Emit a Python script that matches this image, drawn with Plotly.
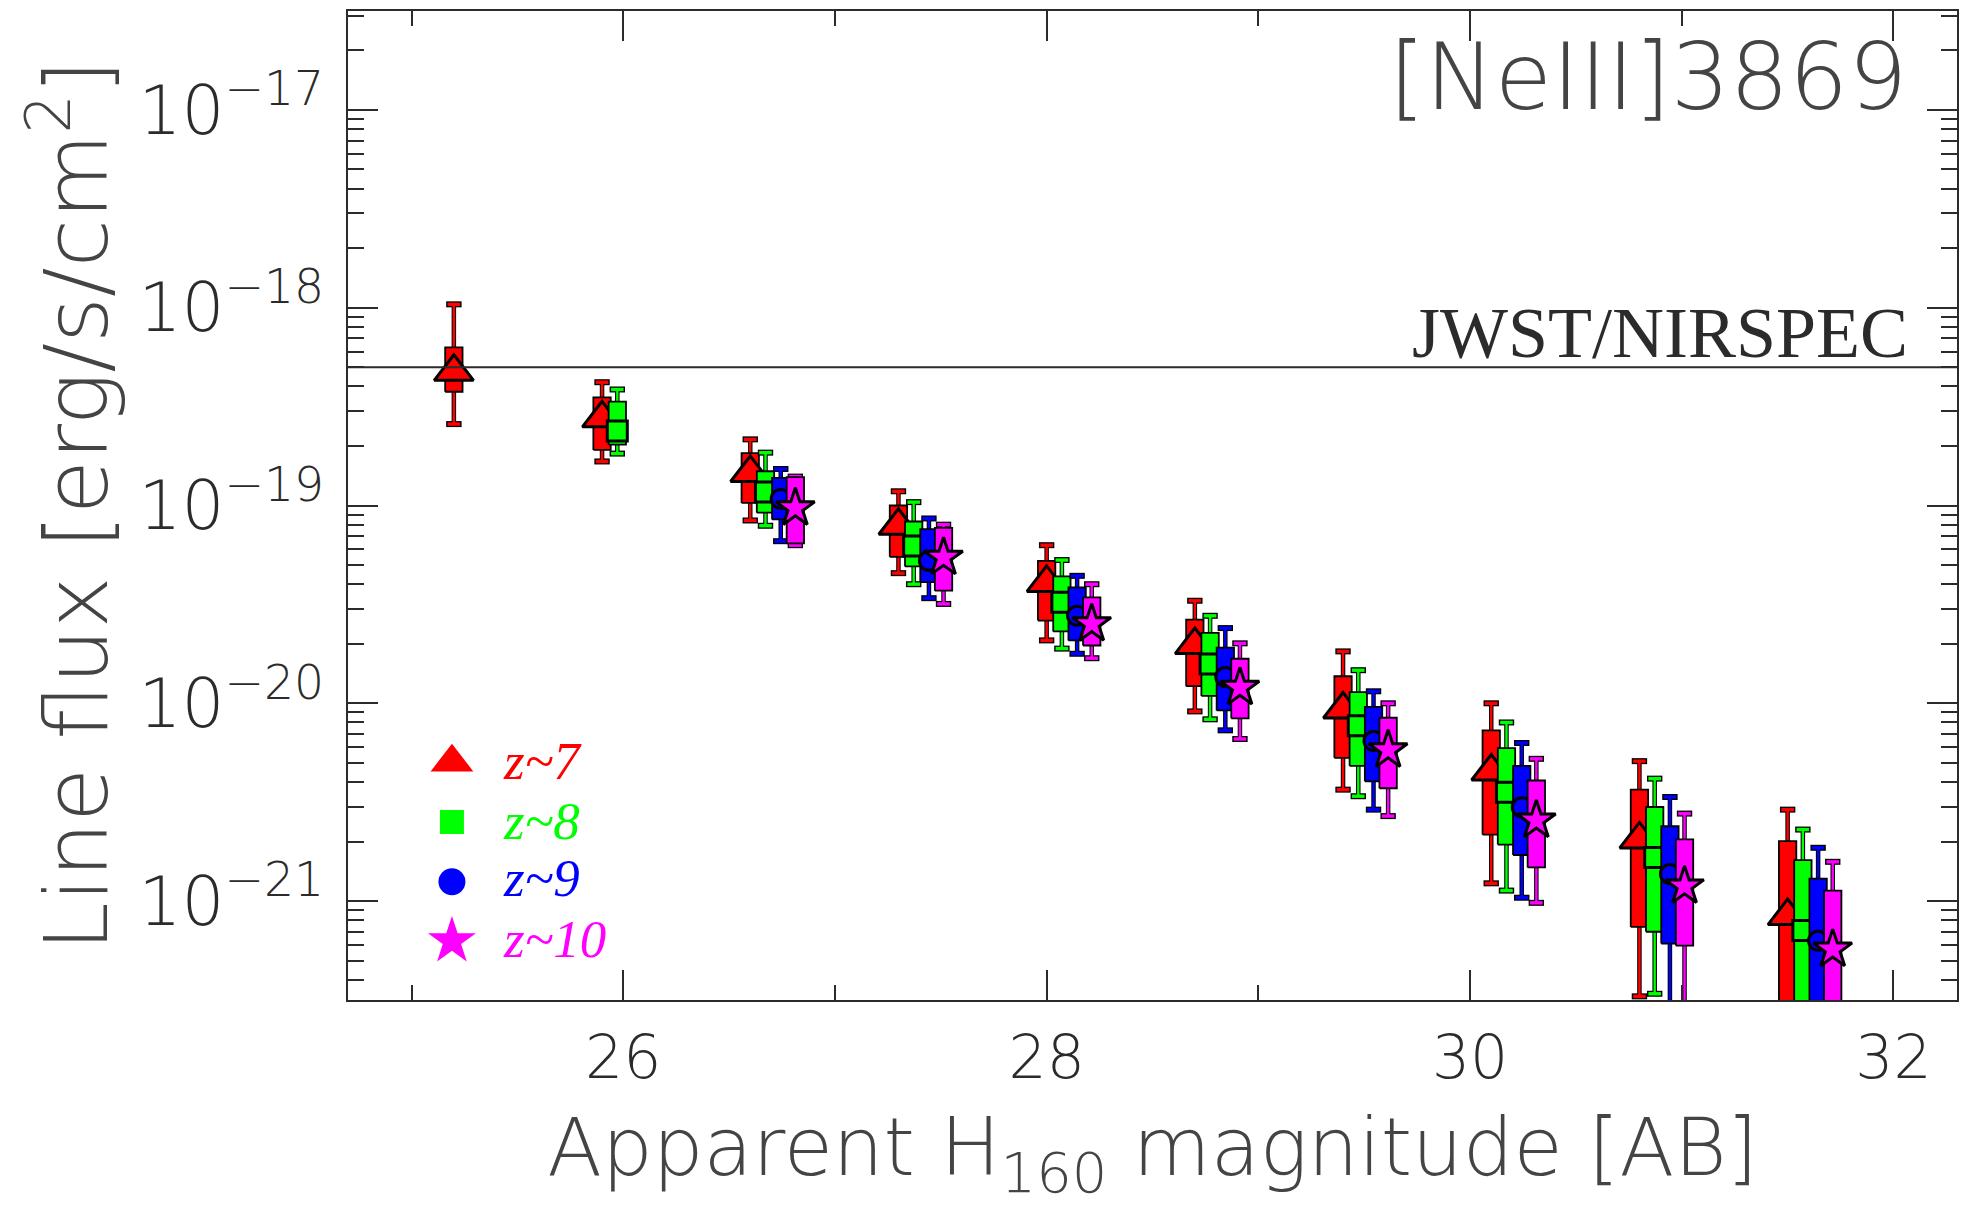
import plotly.graph_objects as go

# ---------------- data ----------------
bins = [25.2, 25.9, 26.6, 27.3, 28.0, 28.7, 29.4, 30.1, 30.8, 31.5]

z7_med  = [4.74e-19, 2.76e-19, 1.46e-19, 7.9e-20, 4.06e-20, 1.97e-20, 9.3e-21, 4.52e-21, 2.05e-21, 8.4e-22]
z7_qhi  = [6.3e-19, 3.52e-19, 1.84e-19, 1.0e-19, 5.25e-20, 2.65e-20, 1.37e-20, 7.3e-21, 3.66e-21, 2.01e-21]
z7_qlo  = [3.76e-19, 1.91e-19, 1.03e-19, 5.5e-20, 2.62e-20, 1.22e-20, 5.3e-21, 2.17e-21, 7.4e-22, 2.0e-22]
z7_whi  = [1.04e-18, 4.2e-19, 2.16e-19, 1.18e-19, 6.3e-20, 3.3e-20, 1.83e-20, 1.0e-20, 5.1e-21, 2.9e-21]
z7_wlo  = [2.58e-19, 1.67e-19, 8.4e-20, 4.55e-20, 2.08e-20, 9.1e-21, 3.66e-21, 1.23e-21, 3.3e-22, 1.0e-22]

z8_med  = [2.38e-19, 1.17e-19, 6.24e-20, 3.24e-20, 1.58e-20, 7.7e-21, 3.55e-21, 1.66e-21, 7.1e-22]
z8_qhi  = [3.35e-19, 1.49e-19, 8.3e-20, 4.38e-20, 2.27e-20, 1.14e-20, 5.93e-21, 2.99e-21, 1.61e-21]
z8_qlo  = [2.03e-19, 9.2e-20, 4.92e-20, 2.31e-20, 1.09e-20, 4.83e-21, 1.93e-21, 7.0e-22, 2.0e-22]
z8_whi  = [3.86e-19, 1.85e-19, 1.04e-19, 5.3e-20, 2.77e-20, 1.47e-20, 8.0e-21, 4.16e-21, 2.30e-21]
z8_wlo  = [1.83e-19, 7.9e-20, 4.0e-20, 1.89e-20, 8.3e-21, 3.39e-21, 1.13e-21, 3.4e-22, 9e-23]

z9_med  = [1.08e-19, 5.25e-20, 2.77e-20, 1.36e-20, 6.45e-21, 2.98e-21, 1.37e-21, 6.3e-22]
z9_qhi  = [1.38e-19, 7.6e-20, 3.85e-20, 1.91e-20, 9.6e-21, 4.83e-21, 2.39e-21, 1.30e-21]
z9_qlo  = [8.5e-20, 4.1e-20, 2.08e-20, 9.2e-21, 4.03e-21, 1.71e-21, 6.1e-22, 1.8e-22]
z9_whi  = [1.53e-19, 8.6e-20, 4.41e-20, 2.40e-20, 1.15e-20, 6.3e-21, 3.36e-21, 1.86e-21]
z9_wlo  = [6.6e-20, 3.4e-20, 1.78e-20, 7.3e-21, 2.90e-21, 1.04e-21, 2.5e-22, 8e-23]

z10_med = [9.7e-20, 5.46e-20, 2.52e-20, 1.20e-20, 5.8e-21, 2.56e-21, 1.19e-21, 5.7e-22]
z10_qhi = [1.39e-19, 7.7e-20, 3.43e-20, 1.68e-20, 8.45e-21, 4.07e-21, 2.05e-21, 1.13e-21]
z10_qlo = [6.44e-20, 3.71e-20, 1.96e-20, 8.4e-21, 3.72e-21, 1.48e-21, 5.96e-22, 1.6e-22]
z10_whi = [1.40e-19, 8.0e-20, 4.0e-20, 2.01e-20, 1.0e-20, 5.24e-21, 2.77e-21, 1.58e-21]
z10_wlo = [6.3e-20, 3.18e-20, 1.69e-20, 6.6e-21, 2.69e-21, 9.8e-22, 2.4e-22, 7e-23]

z_labels = ["z~7", "z~8", "z~9", "z~10"]
jwst_limit = 5e-19
line_name = "[NeIII]3869"
instrument = "JWST/NIRSPEC"

# ---------------- style ----------------
colors = ["#FF0000", "#00FF00", "#0000FF", "#FF00FF"]
symbols = ["triangle-up", "square", "circle", "star"]
msizes = [34, 20, 19, 29]
leg_sizes = [37, 24, 27, 36]
x_offsets = [0.0, 0.072, 0.144, 0.213]
first_bin = [0, 1, 2, 2]
half_w = 0.041
INK = "#2b2b2b"
SANS = "DejaVu Sans"

series = [
    (z7_med, z7_qlo, z7_qhi, z7_wlo, z7_whi),
    (z8_med, z8_qlo, z8_qhi, z8_wlo, z8_whi),
    (z9_med, z9_qlo, z9_qhi, z9_wlo, z9_whi),
    (z10_med, z10_qlo, z10_qhi, z10_wlo, z10_whi),
]

fig = go.Figure()

for i, (med, qlo, qhi, wlo, whi) in enumerate(series):
    xs = [b + x_offsets[i] for b in bins[first_bin[i]:]]
    # whiskers
    wx, wy = [], []
    for x, lo, hi in zip(xs, wlo, whi):
        wx += [x, x, None]
        wy += [lo, hi, None]
    fig.add_trace(go.Scatter(x=wx, y=wy, mode="lines+markers", showlegend=False,
                             line=dict(color="black", width=4.5),
                             marker=dict(symbol="line-ew", size=11,
                                         line=dict(color="black", width=6)),
                             hoverinfo="skip"))
    fig.add_trace(go.Scatter(x=wx, y=wy, mode="lines+markers", showlegend=False,
                             line=dict(color=colors[i], width=2.4),
                             marker=dict(symbol="line-ew", size=9,
                                         line=dict(color=colors[i], width=3.4)),
                             hoverinfo="skip"))
    # boxes
    bx, by = [], []
    for x, lo, hi in zip(xs, qlo, qhi):
        bx += [x - half_w, x + half_w, x + half_w, x - half_w, x - half_w, None]
        by += [lo, lo, hi, hi, lo, None]
    fig.add_trace(go.Scatter(x=bx, y=by, mode="lines", fill="toself",
                             fillcolor=colors[i], showlegend=False,
                             line=dict(color="black", width=1.8),
                             hoverinfo="skip"))
    # medians
    fig.add_trace(go.Scatter(x=xs, y=med, mode="markers", showlegend=False,
                             marker=dict(symbol=symbols[i], size=msizes[i],
                                         color=colors[i],
                                         line=dict(color="black", width=3))))

# legend symbols on an overlay (paper-like) axis
leg_y = [0.2405, 0.180, 0.1195, 0.0595]
leg_ty = [0.2414, 0.181, 0.1237, 0.0614]
for i in range(4):
    fig.add_trace(go.Scatter(x=[0.0646], y=[leg_y[i]], xaxis="x2", yaxis="y2",
                             mode="markers", showlegend=False,
                             marker=dict(symbol=symbols[i], size=leg_sizes[i],
                                         color=colors[i], line=dict(width=0))))
    fig.add_annotation(x=0.0957, y=leg_ty[i], xref="paper", yref="paper",
                       text="<i>" + z_labels[i] + "</i>", showarrow=False,
                       xanchor="left", yanchor="middle", borderpad=0,
                       font=dict(family="Liberation Serif", size=53, color=colors[i]))

# JWST sensitivity line
fig.add_shape(type="line", xref="paper", x0=0, x1=1, yref="y",
              y0=jwst_limit, y1=jwst_limit, line=dict(color=INK, width=2))

fig.add_annotation(x=0.971, y=0.674, xref="paper", yref="paper", text=instrument,
                   showarrow=False, xanchor="right", yanchor="middle",
                   font=dict(family="Liberation Serif", size=72, color=INK))
fig.add_annotation(x=0.970, y=0.9336, xref="paper", yref="paper", text=line_name,
                   showarrow=False, xanchor="right", yanchor="middle",
                   font=dict(family=SANS, size=93, color="#444", weight=200))

axis_common = dict(showline=True, linewidth=2, linecolor=INK, mirror="ticks",
                   ticks="inside", tickwidth=2, tickcolor=INK, showgrid=False,
                   zeroline=False)

fig.update_layout(
    width=1970, height=1205,
    margin=dict(l=348, r=13, t=9, b=202),
    paper_bgcolor="white", plot_bgcolor="white",
    font=dict(family=SANS, color=INK),
    xaxis=dict(range=[24.70, 32.30], tickmode="linear", tick0=26, dtick=2,
               ticklen=30, ticklabelstandoff=4,
               tickfont=dict(family=SANS, size=60, color=INK, weight=200),
               minor=dict(ticks="inside", ticklen=15, tickwidth=2, tickcolor=INK,
                          dtick=1, tick0=25, showgrid=False),
               title=dict(text="Apparent H<sub>160</sub> magnitude [AB]", standoff=48,
                          font=dict(family=SANS, size=80, color="#444", weight=200)),
               **axis_common),
    yaxis=dict(type="log", range=[-21.5, -16.5], dtick=1, exponentformat="power",
               ticklen=30, ticklabelstandoff=11,
               tickfont=dict(family=SANS, size=54, color=INK, weight=200),
               minor=dict(ticks="inside", ticklen=16, tickwidth=2, tickcolor=INK,
                          dtick="D1", showgrid=False),
               title=dict(text="Line flux [erg/s/cm<sup>2</sup>]", standoff=2,
                          font=dict(family=SANS, size=88, color="#444", weight=200)),
               **axis_common),
    xaxis2=dict(overlaying="x", range=[0, 1], visible=False),
    yaxis2=dict(overlaying="y", range=[0, 1], visible=False),
    showlegend=False,
)

fig.write_html("out.html")
